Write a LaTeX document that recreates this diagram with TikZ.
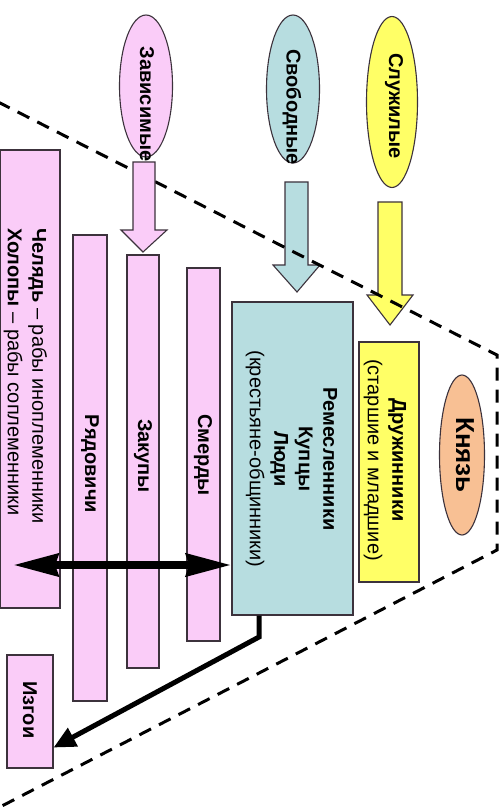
\documentclass[tikz,border=0pt]{standalone}
\usepackage{fontspec}
\setmainfont{Liberation Sans}
\usetikzlibrary{shapes.geometric,arrows.meta,calc}
\definecolor{pinkc}{RGB}{250,204,248}
\definecolor{bluec}{RGB}{183,221,224}
\definecolor{yellowc}{RGB}{255,255,102}
\definecolor{peachc}{RGB}{248,192,148}
\definecolor{edgec}{RGB}{60,50,60}
\tikzset{
  boxline/.style={draw=edgec, line width=1.1pt},
  rbox/.style={boxline, rectangle, inner sep=0pt},
  oval/.style={boxline, ellipse, inner sep=0pt},
  lbl/.style={rotate=-90, inner sep=0pt, font=\fontsize{20}{24}\selectfont\bfseries},
  txt/.style={rotate=-90, inner sep=0pt, font=\fontsize{20}{24.5}\selectfont},
  pyrline/.style={line width=3pt, dash pattern=on 13pt off 9pt},
  thickarrow/.style={line width=8pt, {Stealth[length=45pt,width=22pt,inset=3pt]}-{Stealth[length=45pt,width=22pt,inset=3pt]}},
  outarrow/.style={line width=5pt, -{Triangle[length=22pt,width=20pt]}}
}
\begin{document}
\begin{tikzpicture}[x=1pt,y=-1pt]
\useasboundingbox (0,0) rectangle (500,810);
\fill[white] (0,0) rectangle (500,810);

% ovals
\node[oval, fill=pinkc, minimum width=53pt, minimum height=142pt] (zav) at (146,86) {};
\node[oval, fill=bluec, minimum width=53pt, minimum height=148pt] (svo) at (293,89) {};
\node[oval, fill=yellowc, minimum width=51pt, minimum height=171pt] (slu) at (392,102) {};
\node[oval, fill=peachc, minimum width=45pt, minimum height=160pt] (knyaz) at (462,455) {};
\node[lbl] at (147,104) {Зависимые};
\node[lbl] at (292,107) {Свободные};
\node[lbl] at (394,106) {Служилые};
\node[lbl, font=\fontsize{26}{30}\selectfont\bfseries] at (465,455) {Князь};

% block arrows (blue, yellow)
\draw[boxline, fill=bluec] (285,182) -- (308,182) -- (308,265) -- (320,265) -- (297,292) -- (273,265) -- (285,265) -- cycle;
\draw[boxline, fill=yellowc] (378,202) -- (402,202) -- (402,295) -- (413,295) -- (390,325) -- (367,295) -- (378,295) -- cycle;

% dashed pyramid
\draw[pyrline] (-2,102) -- (497,355) -- (497,550) -- (-2,808);

% pink block arrow
\draw[boxline, fill=pinkc] (133,162) -- (155,162) -- (155,230) -- (167,230) -- (143,252) -- (121,230) -- (133,230) -- cycle;

% boxes
\node[rbox, fill=pinkc, minimum width=60pt, minimum height=458pt] (chel) at (30,379) {};
\node[rbox, fill=pinkc, minimum width=34pt, minimum height=466pt] (ryad) at (90,468) {};
\node[rbox, fill=pinkc, minimum width=32pt, minimum height=413pt] (zak) at (143,461.5) {};
\node[rbox, fill=pinkc, minimum width=33pt, minimum height=373pt] (smer) at (203.5,454.5) {};
\node[rbox, fill=bluec, minimum width=121pt, minimum height=313pt] (rem) at (292.5,458.5) {};
\node[rbox, fill=yellowc, minimum width=60pt, minimum height=240pt] (dru) at (389,462) {};
\node[rbox, fill=pinkc, minimum width=46pt, minimum height=113pt] (izg) at (30,711.5) {};

% labels
\node[txt, anchor=west, align=left] at (25.5,228) {\textbf{Челядь} – рабы иноплеменники\\\textbf{Холопы} – рабы соплеменники};
\node[lbl] at (90,464) {Рядовичи};
\node[lbl] at (143,456) {Закупы};
\node[lbl] at (203,455) {Смерды};
\node[txt, align=center] at (291.5,459) {\textbf{Ремесленники}\\\textbf{Купцы}\\\textbf{Люди}\\(крестьяне-общинники)};
\node[txt, align=center] at (385,460) {\textbf{Дружинники}\\(старшие и младшие)};
\node[lbl] at (30,710) {Изгои};

% connectors
\coordinate (chelL) at (13,565);
\draw[thickarrow] (chelL) -- (rem.west |- chelL);
\coordinate (bend) at (259,637);
\draw[outarrow] (bend |- rem.south) -- (bend) -- ($(izg.south east)+(0,-21)$);
\end{tikzpicture}
\end{document}
